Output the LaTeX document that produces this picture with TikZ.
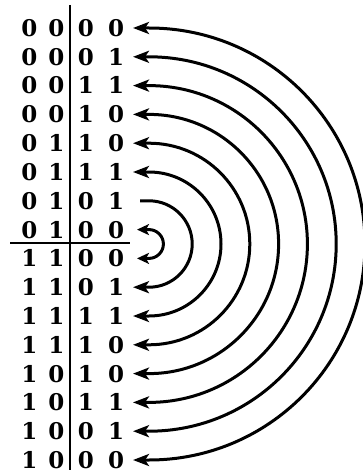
\documentclass[tikz,border=0pt]{standalone}
\usepackage{fontspec}
\newfontfamily\digfont{DejaVu Serif}
\usetikzlibrary{arrows.meta}
\begin{document}
\begin{tikzpicture}[x=1pt,y=1pt,
  dig/.style={font=\digfont\bfseries\fontsize{23}{23}\selectfont, inner sep=0pt, text height=16.8pt, text depth=0pt},
  rule/.style={line width=2pt},
  dbl/.style={line width=3pt, {Stealth[length=16pt,width=12pt,inset=4pt]}-{Stealth[length=16pt,width=12pt,inset=4pt]}},
  sgl/.style={line width=3pt, -{Stealth[length=16pt,width=12pt,inset=4pt]}},
  small/.style={line width=3pt, {Stealth[length=12pt,width=11pt,inset=3pt]}-{Stealth[length=12pt,width=11pt,inset=3pt]}}]
\useasboundingbox (0,0) rectangle (363,-473);
\foreach \a/\b/\c/\d [count=\i] in {0/0/0/0,0/0/0/1,0/0/1/1,0/0/1/0,0/1/1/0,0/1/1/1,0/1/0/1,0/1/0/0,1/1/0/0,1/1/0/1,1/1/1/1,1/1/1/0,1/0/1/0,1/0/1/1,1/0/0/1,1/0/0/0}{
  \pgfmathsetmacro{\yy}{-28-(\i-1)*28.8}
  \node[dig] (d\i a) at (29.5,\yy) {\a};
  \node[dig] (d\i b) at (56.5,\yy) {\b};
  \node[dig] (d\i c) at (86,\yy) {\c};
  \node[dig] (d\i d) at (116,\yy) {\d};
  \coordinate (t\i) at (133,\yy);
  \coordinate (s\i) at (149,\yy);
}
\coordinate (vt) at (70,-5);
\coordinate (vb) at (70,-470);
\coordinate (hl) at (10,-243);
\coordinate (hr) at (130,-243);
\draw[rule] (vt) -- (vb);
\draw[rule] (hl) -- (hr);
\foreach \k in {1,...,6}{
  \pgfmathtruncatemacro{\m}{17-\k}
  \pgfmathsetmacro{\r}{(\m-\k)*14.4}
  \draw[dbl] (t\k) -- (s\k) arc[start angle=90,end angle=-90,radius=\r] -- (t\m);
}
\coordinate (u7) at (140,-28-6*28.8);
\draw[sgl] (u7) -- (s7) arc[start angle=90,end angle=-90,radius=43.2] -- (t10);
\coordinate (u8) at (137,-28-7*28.8);
\coordinate (u9) at (137,-28-8*28.8);
\draw[small] (u8) -- (s8) arc[start angle=90,end angle=-90,radius=14.4] -- (u9);
\end{tikzpicture}
\end{document}
